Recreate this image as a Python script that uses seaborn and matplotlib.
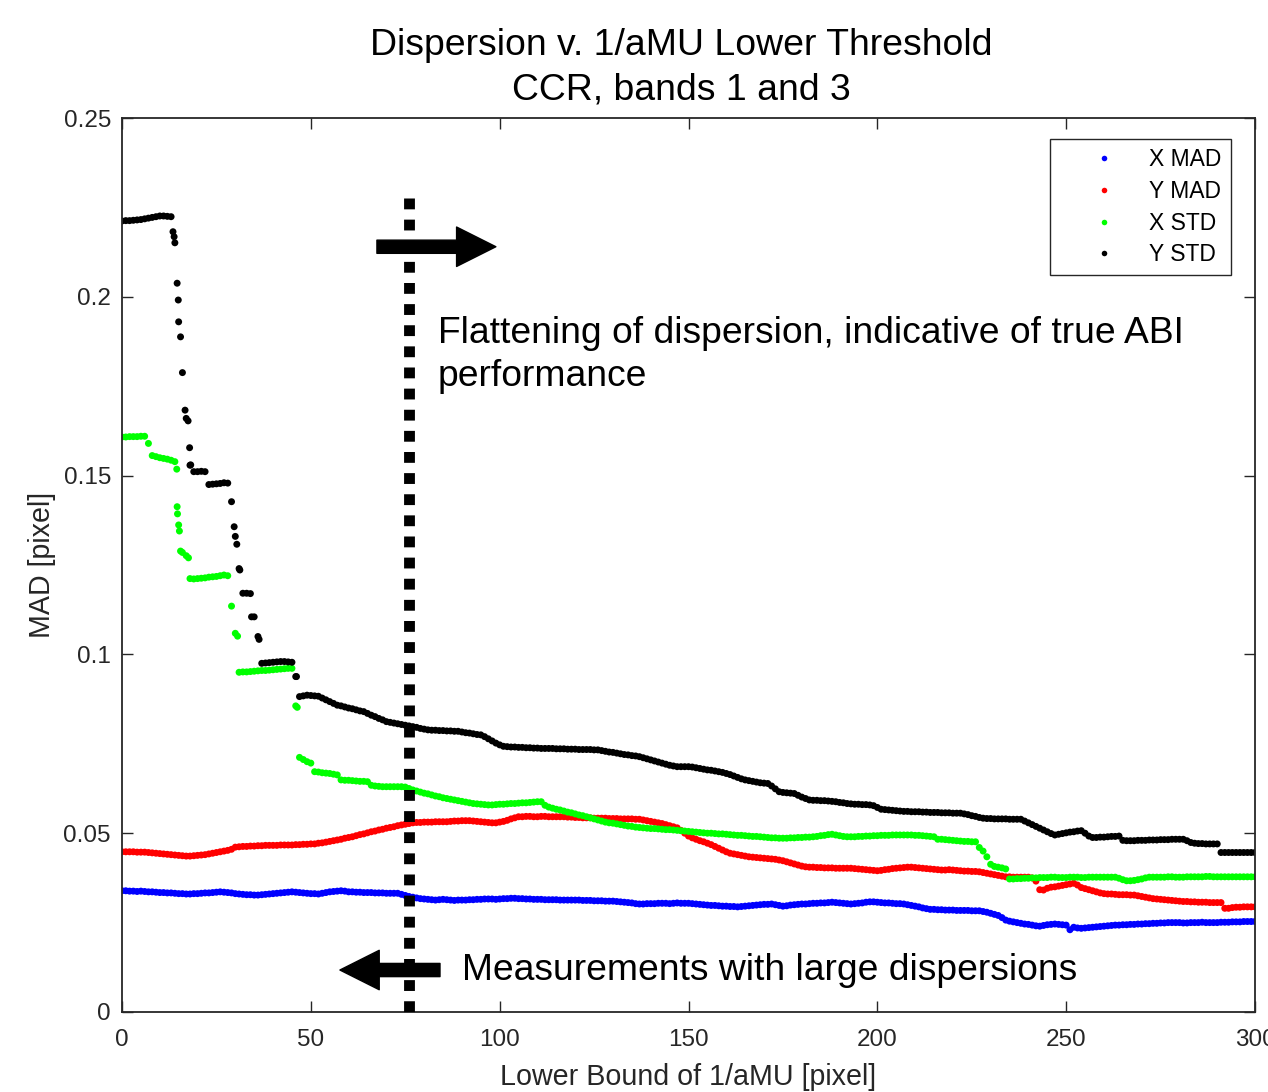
import numpy as np
import pandas as pd
import matplotlib
matplotlib.use("Agg")
import matplotlib.pyplot as plt
import seaborn as sns
from matplotlib.lines import Line2D
from matplotlib.patches import FancyArrowPatch

# ---------------- data (x = lower bound of 1/aMU, 0..300 step 1) ----------------
x_grid = list(range(0, 301))

x_mad = [
    0.0339,0.0339,0.0338,0.0338,0.0337,0.0338,0.0337,0.0336,0.0336,
    0.0335,0.0334,0.0334,0.0333,0.0333,0.0332,0.0331,0.0331,0.0330,
    0.0330,0.0331,0.0331,0.0332,0.0333,0.0333,0.0334,0.0335,0.0336,
    0.0335,0.0334,0.0333,0.0331,0.0330,0.0329,0.0328,0.0328,0.0327,0.0327,
    0.0328,0.0329,0.0330,0.0331,0.0332,0.0333,0.0334,0.0335,0.0336,
    0.0335,0.0334,0.0333,0.0332,0.0331,0.0331,0.0330,
    0.0332,0.0334,0.0336,0.0337,0.0338,0.0339,0.0338,0.0336,
    0.0336,0.0335,0.0335,0.0334,0.0334,0.0334,0.0333,0.0333,0.0333,0.0332,0.0332,0.0332,0.0332,
    0.0329,0.0326,0.0323,0.0321,0.0319,0.0317,0.0316,
    0.0315,0.0314,0.0313,0.0314,0.0315,0.0314,0.0313,0.0312,0.0313,0.0313,
    0.0313,0.0314,0.0314,0.0315,0.0315,0.0316,0.0316,0.0316,0.0315,0.0316,0.0317,0.0317,0.0318,0.0318,
    0.0317,0.0317,0.0316,0.0316,0.0315,0.0315,0.0315,0.0314,0.0314,0.0314,0.0314,0.0313,0.0313,0.0313,0.0313,0.0313,
    0.0313,0.0312,0.0312,0.0312,0.0311,0.0311,0.0311,0.0310,0.0310,0.0310,0.0309,0.0308,0.0307,0.0306,0.0305,0.0303,0.0302,
    0.0302,0.0303,0.0303,0.0303,0.0304,0.0304,0.0304,0.0303,0.0304,0.0305,0.0304,0.0304,0.0304,
    0.0303,0.0302,0.0301,0.0300,0.0299,0.0298,0.0298,0.0297,0.0296,0.0296,0.0295,0.0295,0.0294,
    0.0295,0.0296,0.0297,0.0298,0.0299,0.0300,0.0301,0.0301,0.0302,0.0300,0.0298,0.0296,
    0.0297,0.0299,0.0300,0.0301,0.0302,0.0302,0.0303,0.0304,0.0304,0.0305,0.0305,0.0306,0.0307,
    0.0306,0.0305,0.0304,0.0303,0.0302,0.0303,0.0304,0.0305,0.0307,0.0308,
    0.0308,0.0307,0.0306,0.0305,0.0305,0.0304,0.0303,0.0303,0.0302,
    0.0300,0.0298,0.0296,0.0294,0.0291,0.0289,0.0287,
    0.0287,0.0286,0.0286,0.0285,0.0285,0.0285,0.0284,0.0284,0.0284,0.0284,0.0283,0.0283,0.0283,
    0.0281,0.0279,0.0276,0.0273,0.0270,0.0264,0.0257,
    0.0254,0.0252,0.0250,0.0248,0.0246,0.0245,0.0243,0.0241,0.0240,
    0.0242,0.0244,0.0245,0.0246,0.0245,0.0244,0.0243,0.0230,0.0237,0.0235,0.0234,
    0.0235,0.0236,0.0237,0.0238,0.0239,0.0240,0.0241,0.0242,0.0243,
    0.0243,0.0244,0.0244,0.0245,0.0245,0.0246,0.0246,0.0247,0.0247,0.0248,0.0248,0.0249,0.0249,0.0250,
    0.0250,0.0250,0.0250,0.0249,0.0249,0.0250,0.0250,0.0250,0.0251,0.0250,0.0250,0.0250,0.0250,
    0.0251,0.0251,0.0251,0.0252,0.0252,0.0252,0.0253,0.0253,0.0253,0.0253,
]

y_mad = [
    0.0448,0.0448,0.0448,0.0448,0.0447,0.0447,0.0447,
    0.0446,0.0445,0.0444,0.0443,0.0442,0.0441,0.0440,0.0439,0.0438,0.0437,0.0436,
    0.0436,0.0437,0.0438,0.0439,0.0440,0.0442,
    0.0444,0.0446,0.0448,0.0450,0.0452,0.0455,0.0461,
    0.0462,0.0463,0.0463,0.0464,0.0464,0.0465,0.0465,0.0466,0.0466,
    0.0466,0.0466,0.0467,0.0467,0.0467,0.0467,0.0468,0.0468,0.0469,0.0469,0.0470,0.0470,
    0.0472,0.0473,0.0475,0.0477,0.0479,0.0481,0.0483,0.0486,
    0.0488,0.0490,0.0493,0.0496,0.0498,0.0501,0.0504,0.0506,0.0509,
    0.0511,0.0514,0.0516,0.0518,0.0521,0.0523,0.0525,0.0527,0.0529,
    0.0530,0.0530,0.0531,0.0531,0.0531,0.0532,0.0532,0.0532,0.0532,
    0.0533,0.0534,0.0534,0.0535,0.0535,0.0535,0.0534,0.0533,0.0532,0.0531,0.0530,0.0529,0.0529,
    0.0531,0.0533,0.0536,0.0540,0.0543,0.0546,
    0.0546,0.0547,0.0547,0.0546,0.0546,0.0547,0.0547,0.0546,0.0546,0.0546,0.0546,0.0546,
    0.0545,0.0545,0.0544,0.0544,0.0543,0.0543,0.0543,0.0542,0.0542,
    0.0542,0.0542,0.0541,0.0541,0.0541,0.0540,0.0540,0.0540,0.0540,0.0539,0.0539,
    0.0537,0.0535,0.0533,0.0531,0.0529,0.0527,0.0524,0.0521,0.0518,0.0515,
    0.0508,0.0500,0.0492,0.0487,0.0483,0.0479,0.0476,0.0472,
    0.0468,0.0463,0.0458,0.0453,0.0448,0.0444,
    0.0442,0.0440,0.0438,0.0436,0.0434,0.0433,0.0432,0.0431,0.0430,0.0429,0.0428,0.0427,0.0425,
    0.0423,0.0420,0.0417,0.0414,0.0411,0.0408,0.0406,
    0.0405,0.0405,0.0404,0.0404,0.0403,0.0403,0.0403,0.0402,0.0402,0.0402,0.0402,0.0402,
    0.0401,0.0400,0.0399,0.0398,0.0397,0.0396,0.0395,
    0.0396,0.0398,0.0399,0.0401,0.0402,0.0403,0.0404,0.0405,0.0405,
    0.0404,0.0403,0.0402,0.0401,0.0400,0.0399,0.0398,0.0397,0.0397,0.0398,0.0397,0.0396,0.0395,0.0394,0.0394,0.0393,0.0393,0.0392,
    0.0390,0.0388,0.0386,0.0384,0.0382,0.0380,0.0378,
    0.0378,0.0377,0.0377,0.0377,0.0377,0.0377,0.0375,0.0366,
    0.0342,0.0341,0.0346,0.0349,0.0350,0.0352,0.0354,0.0356,0.0358,
    0.0360,0.0355,0.0348,0.0345,0.0342,0.0339,0.0336,0.0333,0.0331,
    0.0330,0.0330,0.0329,0.0328,0.0328,0.0328,0.0327,0.0327,
    0.0325,0.0323,0.0321,0.0319,0.0317,0.0316,0.0315,0.0314,0.0313,0.0312,0.0311,0.0310,0.0309,0.0309,0.0308,
    0.0308,0.0307,0.0307,0.0307,0.0306,0.0306,0.0306,0.0306,
    0.0290,0.0290,0.0292,0.0293,0.0293,0.0294,0.0294,0.0294,0.0294,
]

x_std = [
    0.1608,0.1608,0.1609,0.1609,0.1609,0.1610,0.1610,
    0.1590,0.1556,0.1553,0.1550,0.1548,0.1546,0.1543,0.1539,
    0.1362,0.1285,0.1276,0.1212,
    0.1211,0.1212,0.1213,0.1214,0.1216,0.1217,0.1218,0.1220,0.1222,0.1220,
    0.1135,0.1059,0.0950,0.0951,0.0951,0.0952,0.0953,0.0954,0.0955,0.0955,0.0956,0.0957,0.0958,0.0959,0.0960,0.0961,0.0961,
    0.0856,0.0712,0.0706,0.0700,0.0696,
    0.0672,0.0671,0.0669,0.0668,0.0667,0.0665,0.0663,
    0.0649,0.0648,0.0648,0.0647,0.0646,0.0645,0.0645,0.0644,
    0.0634,0.0632,0.0631,0.0630,0.0630,0.0630,0.0630,0.0630,0.0630,0.0629,
    0.0625,0.0621,0.0618,0.0615,0.0612,0.0610,0.0607,0.0604,0.0602,0.0599,0.0597,0.0595,0.0593,
    0.0591,0.0589,0.0587,0.0585,0.0583,0.0582,0.0581,0.0580,0.0579,
    0.0579,0.0580,0.0581,0.0581,0.0582,0.0583,0.0583,0.0584,0.0585,0.0585,0.0586,0.0587,0.0588,0.0588,
    0.0578,0.0573,0.0570,0.0567,0.0565,0.0562,0.0559,0.0557,0.0554,0.0551,
    0.0549,0.0546,0.0543,0.0540,0.0537,0.0534,0.0531,0.0529,0.0528,0.0526,0.0524,0.0522,0.0520,0.0519,0.0517,0.0516,
    0.0515,0.0514,0.0513,0.0513,0.0512,0.0511,0.0510,0.0510,0.0509,0.0508,0.0507,0.0506,0.0505,0.0504,0.0503,0.0502,0.0501,0.0500,
    0.0500,0.0499,0.0498,0.0498,0.0497,0.0496,0.0495,0.0494,0.0494,0.0493,0.0492,0.0491,0.0491,0.0490,0.0489,0.0488,0.0487,0.0487,0.0486,
    0.0486,0.0486,0.0487,0.0487,0.0488,0.0488,0.0489,0.0489,0.0490,0.0491,0.0493,0.0494,0.0496,0.0497,0.0495,0.0493,0.0491,0.0490,0.0490,
    0.0490,0.0491,0.0491,0.0492,0.0492,0.0493,0.0493,0.0494,0.0494,0.0494,0.0495,0.0495,0.0495,0.0495,0.0495,0.0495,0.0494,0.0494,0.0493,0.0492,0.0491,0.0490,
    0.0483,0.0483,0.0482,0.0481,0.0480,0.0479,0.0478,0.0477,0.0477,0.0476,0.0476,
    0.0460,0.0450,0.0434,0.0413,0.0407,0.0405,0.0403,0.0400,
    0.0372,0.0372,0.0373,0.0373,0.0374,0.0374,0.0375,0.0375,0.0376,0.0376,0.0376,0.0377,0.0377,
    0.0376,0.0376,0.0376,0.0377,0.0377,0.0377,0.0376,0.0376,0.0377,0.0377,0.0377,0.0377,0.0377,0.0377,0.0377,0.0377,
    0.0374,0.0370,0.0367,0.0367,0.0368,0.0370,0.0372,0.0375,0.0377,
    0.0377,0.0377,0.0377,0.0377,0.0378,0.0378,0.0377,0.0377,0.0377,0.0378,0.0378,0.0378,0.0378,0.0378,
    0.0379,0.0379,0.0378,0.0378,0.0378,0.0378,0.0378,0.0378,0.0378,0.0378,0.0378,0.0378,0.0378,0.0378,
]
# extra sparse samples inside the steep drops of X STD
x_std_extra_x = [14.5, 14.6, 14.7, 15.2, 15.5, 17.6, 30.6, 46.4]
x_std_extra_y = [0.1518, 0.1413, 0.1393, 0.1345, 0.1289, 0.1270, 0.1051, 0.0852]

y_std = [
    0.2212,0.2213,0.2213,0.2214,0.2215,0.2216,0.2218,0.2220,0.2222,0.2224,0.2226,0.2226,0.2225,0.2224,
    0.2151,0.1930,0.1788,0.1660,0.1529,
    0.1511,0.1511,0.1512,0.1511,
    0.1475,0.1476,0.1477,0.1478,0.1480,0.1479,
    0.1427,0.1330,0.1240,
    0.1171,0.1171,0.1170,
    0.1105,0.1050,
    0.0975,0.0976,0.0977,0.0978,0.0979,0.0980,0.0980,0.0979,0.0978,
    0.0938,
    0.0882,0.0884,0.0886,0.0885,0.0884,0.0883,
    0.0878,0.0873,0.0868,0.0863,0.0858,
    0.0856,0.0853,0.0850,0.0848,0.0845,0.0842,0.0840,
    0.0835,0.0830,0.0826,0.0821,0.0817,0.0812,
    0.0810,0.0808,0.0806,0.0804,0.0802,0.0800,0.0798,
    0.0796,0.0793,0.0791,0.0789,0.0788,0.0788,0.0787,0.0787,0.0786,0.0786,0.0785,0.0785,
    0.0783,0.0781,0.0780,0.0778,0.0776,0.0775,
    0.0770,0.0764,0.0758,0.0752,0.0747,0.0743,0.0742,
    0.0741,0.0741,0.0740,0.0740,0.0739,0.0739,0.0738,0.0738,0.0737,0.0737,
    0.0737,0.0737,0.0736,0.0736,0.0736,0.0735,0.0735,0.0735,0.0734,0.0734,0.0734,0.0734,0.0733,0.0733,
    0.0731,0.0729,0.0727,0.0726,0.0724,0.0722,0.0720,0.0719,0.0717,0.0716,0.0714,
    0.0711,0.0708,0.0705,0.0702,0.0699,0.0696,0.0693,0.0690,0.0688,0.0686,
    0.0686,0.0686,0.0686,0.0685,0.0683,0.0681,0.0679,0.0677,
    0.0676,0.0674,0.0672,0.0670,0.0667,
    0.0664,0.0660,0.0656,0.0652,0.0649,
    0.0647,0.0645,0.0643,0.0641,0.0640,0.0639,
    0.0632,0.0624,0.0616,
    0.0614,0.0613,0.0612,0.0611,
    0.0606,0.0601,0.0597,0.0593,
    0.0592,0.0592,0.0591,0.0591,0.0590,0.0589,0.0588,0.0586,0.0585,0.0583,0.0582,
    0.0581,0.0581,0.0580,0.0580,0.0579,0.0577,0.0572,0.0567,
    0.0566,0.0565,0.0564,0.0563,0.0562,0.0561,0.0561,0.0560,
    0.0560,0.0560,0.0559,0.0559,0.0558,0.0558,0.0558,0.0557,0.0557,0.0557,0.0556,0.0556,0.0556,
    0.0554,0.0552,0.0549,0.0547,0.0544,0.0542,
    0.0541,0.0541,0.0540,0.0540,0.0540,0.0540,0.0539,0.0539,0.0539,0.0539,
    0.0534,0.0529,0.0524,0.0519,0.0514,0.0509,0.0504,0.0499,0.0495,
    0.0497,0.0499,0.0501,0.0503,0.0504,0.0506,0.0507,
    0.0500,0.0492,0.0488,
    0.0488,0.0489,0.0489,0.0490,0.0491,0.0491,0.0492,
    0.0480,0.0479,0.0479,0.0479,0.0480,0.0480,0.0480,0.0481,0.0481,0.0481,0.0482,0.0482,0.0482,0.0483,0.0483,0.0483,0.0483,
    0.0479,0.0474,0.0472,0.0471,0.0471,0.0470,0.0470,0.0470,0.0470,
    0.0446,
    0.0446,0.0446,0.0446,0.0446,0.0446,0.0446,0.0446,0.0446,0.0446,
]
# extra sparse samples inside the steep drops of Y STD
y_std_extra_x = [13.5, 13.8, 14.6, 14.9, 15.5, 16.7, 17.5, 17.9, 18.2, 29.7, 30.4, 31.2, 34.3, 36.3, 46.2]
y_std_extra_y = [0.2182, 0.2168, 0.2038, 0.1991, 0.1888, 0.1683, 0.1653, 0.1578, 0.1530,
                 0.1357, 0.1308, 0.1236, 0.1105, 0.1042, 0.0938]

series_names = ["X MAD", "Y MAD", "X STD", "Y STD"]
series_colors = ["#0000ff", "#ff0000", "#00ff00", "#000000"]

title_lines = ["Dispersion v. 1/aMU Lower Threshold", "CCR, bands 1 and 3"]
x_label = "Lower Bound of 1/aMU [pixel]"
y_label = "MAD [pixel]"
x_ticks = [0, 50, 100, 150, 200, 250, 300]
y_ticks = [0, 0.05, 0.1, 0.15, 0.2, 0.25]
y_tick_labels = ["0", "0.05", "0.1", "0.15", "0.2", "0.25"]

threshold_x = 76.0
note_right = "Flattening of dispersion, indicative of true ABI\nperformance"
note_left = "Measurements with large dispersions"

for arr in (x_mad, y_mad, x_std, y_std):
    assert len(arr) == len(x_grid), len(arr)

# ---------------- build long-form table ----------------
frames = [
    pd.DataFrame({"x": x_grid, "y": x_mad, "series": "X MAD"}),
    pd.DataFrame({"x": x_grid, "y": y_mad, "series": "Y MAD"}),
    pd.DataFrame({"x": x_grid, "y": x_std, "series": "X STD"}),
    pd.DataFrame({"x": x_std_extra_x, "y": x_std_extra_y, "series": "X STD"}),
    pd.DataFrame({"x": x_grid, "y": y_std, "series": "Y STD"}),
    pd.DataFrame({"x": y_std_extra_x, "y": y_std_extra_y, "series": "Y STD"}),
]
df = pd.concat(frames, ignore_index=True)

# ---------------- style ----------------
sns.set_theme(style="white")
plt.rcParams["font.family"] = ["Liberation Sans", "DejaVu Sans"]
axis_col = "#262626"

fig = plt.figure(figsize=(12.68, 10.92), dpi=100)
ax = fig.add_axes([122 / 1268, 1 - 1012 / 1092, (1255 - 122) / 1268, (1012 - 118) / 1092])

sns.scatterplot(data=df, x="x", y="y", hue="series", hue_order=series_names,
                palette=series_colors, s=25, linewidth=0, ax=ax, legend=False,
                clip_on=True)

ax.set_xlim(0, 300)
ax.set_ylim(0, 0.25)
ax.set_xticks(x_ticks)
ax.set_xticklabels([str(t) for t in x_ticks])
ax.set_yticks(y_ticks)
ax.set_yticklabels(y_tick_labels)
ax.tick_params(direction="in", length=8, width=1.0, color=axis_col, labelcolor=axis_col,
               labelsize=17.5, top=True, right=True, bottom=True, left=True)
ax.tick_params(axis="x", pad=12.5)
ax.tick_params(axis="y", pad=8)
for s in ax.spines.values():
    s.set_color(axis_col)
    s.set_linewidth(1.3)
    s.set_visible(True)

ax.set_xlabel(x_label, fontsize=20.6, color=axis_col, labelpad=8.5)
ax.set_ylabel(y_label, fontsize=20.6, color=axis_col, labelpad=5)

fig.text(681 / 1268, 1 - 68 / 1092, "\n".join(title_lines), ha="center", va="center",
         fontsize=26.9, color="#000000", linespacing=1.37)

# vertical dotted threshold line
ax.plot([threshold_x, threshold_x], [0.2275, 0.0], color="black", linewidth=7.8,
        linestyle=(0, (1.0, 0.95)), dash_capstyle="butt", solid_capstyle="butt",
        zorder=5, clip_on=False)

# arrows
arrow_style = "simple,head_length=28.3,head_width=28.4,tail_width=9.5"
ax.add_patch(FancyArrowPatch((67.5, 0.2140), (99.0, 0.2140), arrowstyle=arrow_style,
                             mutation_scale=1, color="black", shrinkA=0, shrinkB=0, zorder=6))
ax.add_patch(FancyArrowPatch((84.2, 0.01174), (57.7, 0.01174), arrowstyle=arrow_style,
                             mutation_scale=1, color="black", shrinkA=0, shrinkB=0, zorder=6))

ax.text(83.7, 0.1838, note_right, fontsize=26.8, color="black", ha="left", va="center",
        linespacing=1.29)
ax.text(90.0, 0.01174, note_left, fontsize=26.8, color="black", ha="left", va="center")

# legend
handles = [Line2D([0], [0], marker="o", linestyle="none", markersize=4.0,
                  markerfacecolor=c, markeredgewidth=0, color=c) for c in series_colors]
leg = fig.legend(handles, series_names, loc="upper right",
                 bbox_to_anchor=(1231 / 1268, 1 - 139 / 1092), fontsize=16.5,
                 frameon=True, fancybox=False, shadow=False, framealpha=1,
                 borderpad=0.4, labelspacing=0.38, handlelength=3.96,
                 handletextpad=0.0, borderaxespad=0)
leg.get_frame().set_edgecolor(axis_col)
leg.get_frame().set_linewidth(1.0)
for t in leg.get_texts():
    t.set_color("black")

fig.savefig("out.png", dpi=100)
